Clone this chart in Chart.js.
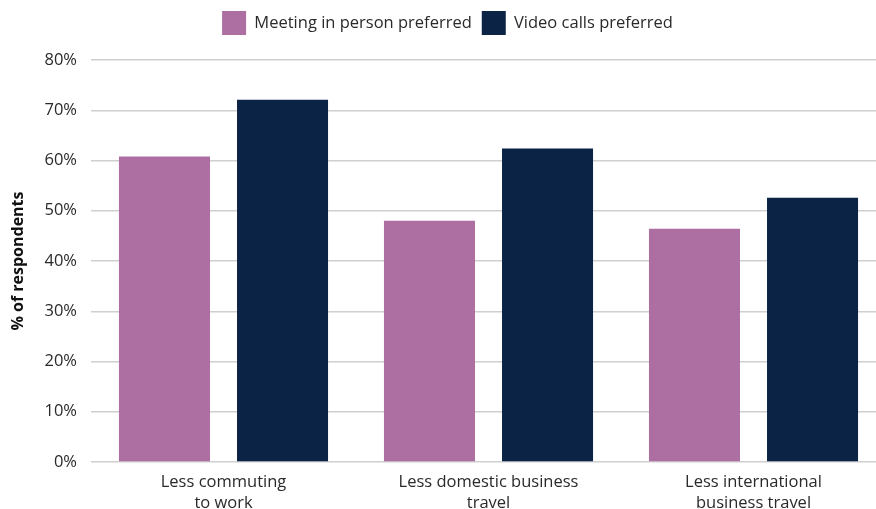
<!DOCTYPE html>
<html>
<head>
<meta charset="utf-8">
<script src="https://cdn.jsdelivr.net/npm/chart.js@4"></script>
<style>
  html, body { margin: 0; padding: 0; background: #fff; overflow: hidden; }
  #wrap { width: 886px; height: 509px; }
</style>
</head>
<body>
<div id="wrap"><canvas id="grafico"></canvas></div>
<script>
const categories = [["Less commuting", "to work"], ["Less domestic business", "travel"], ["Less international", "business travel"]];
const meetingInPerson = [60.8, 48.0, 46.4];
const videoCalls = [72.1, 62.4, 52.6];
const seriesNames = ["Meeting in person preferred", "Video calls preferred"];
const yTicks = [0, 10, 20, 30, 40, 50, 60, 70, 80];

const ctx = document.getElementById('grafico');
Chart.defaults.font.family = "'Open Sans', sans-serif";
Chart.defaults.color = "#2a2a2a";

// push the plot down a bit under the legend
const legendGap = {
    id: 'legendGap',
    beforeInit(chart) {
        const fit = chart.legend.fit;
        chart.legend.fit = function () {
            fit.bind(chart.legend)();
            this.height += 15;
        };
    }
};

new Chart(ctx, {
    type: 'bar',
    data: {
        labels: categories,
        datasets: [{
            label: seriesNames[0],
            data: meetingInPerson,
            backgroundColor: '#AD6EA1'
        }, {
            label: seriesNames[1],
            data: videoCalls,
            backgroundColor: '#0B2345'
        }]
    },
    options: {
        responsive: true,
        maintainAspectRatio: false,
        animation: false,
        categoryPercentage: 0.891,
        barPercentage: 0.771,
        layout: { padding: { left: 9, top: 1, right: 0, bottom: 0 } },
        plugins: {
            legend: {
                position: 'top',
                labels: { boxWidth: 24, boxHeight: 24, padding: 10, font: { size: 16.5 } }
            },
            tooltip: { enabled: false }
        },
        scales: {
            x: {
                grid: { display: false },
                border: { display: false },
                ticks: { font: { size: 16.5, lineHeight: 1.25 }, maxRotation: 0, padding: 2 },
                afterFit: s => { s.height = 47; }
            },
            y: {
                min: 0,
                max: 80,
                afterBuildTicks: s => { s.ticks = yTicks.map(v => ({ value: v })); },
                afterFit: s => { s.width = 82; },
                border: { display: false },
                grid: { color: '#cfcfcf', lineWidth: 1.5, drawTicks: true, tickLength: 14, tickColor: '#fff' },
                ticks: { font: { size: 16.5 }, padding: 0, callback: v => v + '%' },
                title: { display: true, text: '% of respondents', font: { size: 16, weight: 'bold' }, color: '#111', padding: { top: 0, bottom: 0 } }
            }
        }
    },
    plugins: [legendGap]
});
</script>
</body>
</html>
